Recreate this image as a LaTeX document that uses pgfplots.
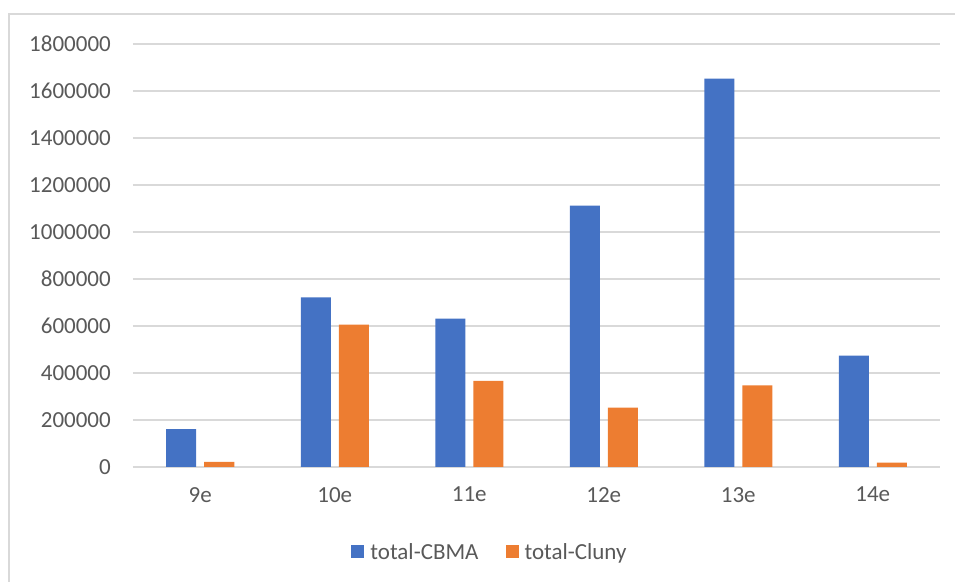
\documentclass[border=0pt]{standalone}
\usepackage{pgfplots}
\pgfplotsset{compat=1.18}
\usepackage{fontspec}
\setmainfont{Carlito}
\definecolor{cbma}{HTML}{4472C4}
\definecolor{cluny}{HTML}{ED7D31}
\definecolor{txt}{HTML}{595959}
\definecolor{gridc}{HTML}{D9D9D9}
\begin{document}
\begin{tikzpicture}[x=1bp,y=1bp]
  % chart frame (left and top edges only are visible)
  \path[use as bounding box] (-133,-115) rectangle (822,467);
  \draw[gridc, line width=1.2bp] (-124,-120) -- (-124,453) -- (830,453);
  \begin{axis}[
    at={(0,0)}, anchor=south west,
    scale only axis,
    width=807bp, height=423bp,
    ybar=8bp,
    bar width=30bp,
    xmin=-0.5, xmax=5.5,
    ymin=0, ymax=1800000,
    xtick=data,
    xticklabels={9e,10e,11e,12e,13e,14e},
    ytick={0,200000,...,1800000},
    scaled y ticks=false,
    yticklabel style={/pgf/number format/fixed, /pgf/number format/1000 sep={},
      /pgf/number format/assume math mode=true, inner sep=0pt, anchor=east, xshift=-22bp},
    xticklabel style={inner sep=0pt, anchor=north, yshift=-20bp},
    ticklabel style={font=\fontsize{23bp}{27bp}\selectfont, text=txt},
    major tick length=0pt,
    tick style={draw=none},
    axis line style={draw=none},
    ymajorgrids,
    major grid style={gridc, line width=1.3bp},
    legend style={at={(357bp,-85bp)}, anchor=center, draw=none, fill=none,
      legend columns=-1, font=\fontsize{23bp}{27bp}\selectfont, text=txt,
      /tikz/every odd column/.append style={column sep=4bp},
      /tikz/every even column/.append style={column sep=25bp}},
    legend image code/.code={\fill[#1] (0bp,-6.5bp) rectangle (13bp,6.5bp);},
  ]
    \addplot[fill=cbma, draw=none] coordinates {(0,161000) (1,722000) (2,631000) (3,1112000) (4,1653000) (5,474000)};
    \addplot[fill=cluny, draw=none] coordinates {(0,22000) (1,606000) (2,367000) (3,253000) (4,347000) (5,19000)};
    \legend{total-CBMA,total-Cluny}
  \end{axis}
\end{tikzpicture}
\end{document}
